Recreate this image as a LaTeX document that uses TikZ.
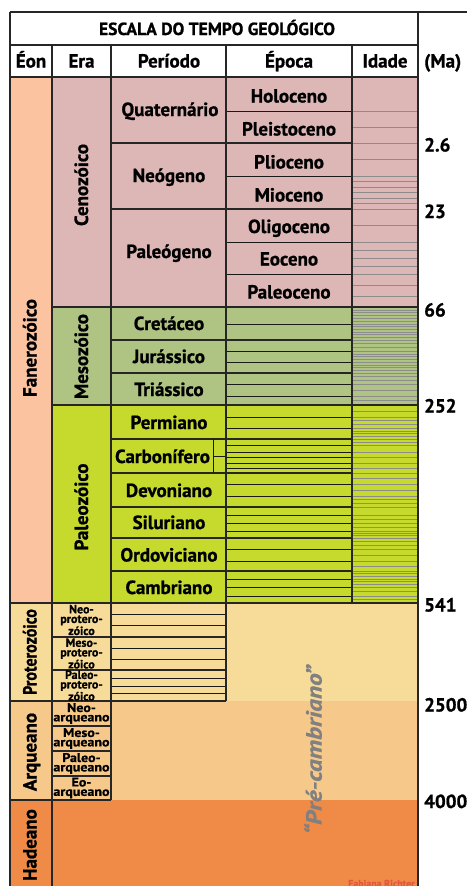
\documentclass[tikz,border=0pt]{standalone}
\usepackage{fontspec}
\setmainfont{PT Sans}[BoldFeatures={FakeBold=0.9},BoldItalicFeatures={FakeBold=0.9}]
\definecolor{fan}{HTML}{FBC3A0}
\definecolor{ceno}{HTML}{DDB6B6}
\definecolor{meso}{HTML}{AFC382}
\definecolor{paleo}{HTML}{C6DA2E}
\definecolor{prot}{HTML}{F7DB98}
\definecolor{arq}{HTML}{F6C98B}
\definecolor{had}{HTML}{EF8B47}
\definecolor{sig}{HTML}{E4583A}
\begin{document}
\begin{tikzpicture}[x=1pt,y=-1pt,line join=miter,
  bd/.style={line width=1.1pt,draw=black!85},
  ep/.style={line width=1pt,draw=black!90},
  ag/.style={line width=0.45pt,draw=black!45},
  lab/.style={font=\fontsize{19}{20}\selectfont\bfseries,inner sep=0pt,anchor=base},
  vlab/.style={lab,rotate=90},
  tinyp/.style={font=\fontsize{12}{9.6}\selectfont\bfseries,inner sep=0pt,align=center},
  tinya/.style={font=\fontsize{12.5}{9.4}\selectfont\bfseries\addfontfeature{FakeStretch=1.12},inner sep=0pt,align=center},
  ma/.style={lab,anchor=base west}]
\useasboundingbox (0,0) rectangle (467,886);
\fill[white] (0,0) rectangle (467,886);
% backgrounds
\fill[fan] (10,77) rectangle (52,603);
\fill[ceno] (52,77) rectangle (418,307);
\fill[meso] (52,307) rectangle (418,405);
\fill[paleo] (52,405) rectangle (418,603);
\fill[prot] (10,603) rectangle (418,701);
\fill[arq] (10,701) rectangle (418,800);
\fill[had] (10,800) rectangle (418,886);
% idade (stage) lines
\foreach \a/\b/\n in {77/111/1,111/143/2,143/176/2,176/209/6,209/242/2,242/274/4,274/307/3,
  307/324/6,324/340/6,340/351/3,351/362/4,362/373/4,373/384/3,384/396/2,396/405/2,
  405/417/2,417/428/3,428/439/4,439/445/2,445/452/1,452/457/1,457/463/1,463/468/1,468/473/1,
  473/484/2,484/496/2,496/507/3,507/515/1,515/523/2,523/531/2,531/538/3,
  538/549/3,549/561/2,561/571/2,571/579/3,579/587/3,587/596/2,596/603/2}{
  \foreach \k in {1,...,\n}{
    \draw[ag] (352,{\a+(\b-\a)*\k/\n}) -- (418,{\a+(\b-\a)*\k/\n});
  }
}
% epoch lines
\foreach \y in {111,143,176,209,242,274,324,340,351,362,373,384,396,417,428,439,445,452,457,463,468,473,484,496,507,515,523,531,538,549,561,571,579,587,596}{
  \draw[ep] (226,\y) -- (352,\y);
}
% period lines
\foreach \y in {143,209,340,373,439,473,507,538,571}{
  \draw[bd] (111,\y) -- (352,\y);
}
% carbonifero subdivision
\draw[ep] (213,439) -- (213,473);
\draw[ep] (213,456) -- (226,456);
% proterozoic period lines
\foreach \y in {614,625,648,659,678,686,693}{
  \draw[ep] (111,\y) -- (226,\y);
}
\foreach \y in {637,670}{
  \draw[bd] (52,\y) -- (226,\y);
}
\foreach \y in {726,751,776}{
  \draw[bd] (52,\y) -- (111,\y);
}
% era lines
\draw[bd] (52,307) -- (418,307);
\draw[bd] (52,405) -- (418,405);
% main frame
\draw[bd] (10,12) -- (467,12);
\draw[bd] (10,45) -- (418,45);
\draw[bd] (10,77) -- (418,77);
\draw[bd] (10,603) -- (418,603);
\draw[bd] (10,701) -- (226,701);
\draw[bd] (10,800) -- (111,800);
\draw[bd] (10,12) -- (10,886);
\draw[bd] (418,12) -- (418,886);
\draw[bd] (52,45) -- (52,886);
\draw[bd] (111,45) -- (111,800);
\draw[bd] (226,45) -- (226,701);
\draw[bd] (352,45) -- (352,603);
% title and headers
\node[lab,font=\fontsize{17.5}{20}\selectfont\bfseries] (title) at (217,35) {ESCALA DO TEMPO GEOLÓGICO};
\node[lab] (heon) at (31,67.5) {Éon};
\node[lab] (hera) at (81.5,67.5) {Era};
\node[lab] (hper) at (169,67.5) {Período};
\node[lab] (hepo) at (289,67.5) {Época};
\node[lab] (hida) at (385,67.5) {Idade};
\node[ma] (hma) at (424,67.5) {(Ma)};
% periods
\node[lab] (quat) at (170,116) {Quaternário};
\node[lab] (neog) at (169,182) {Neógeno};
\node[lab] (paleog) at (169,258) {Paleógeno};
\node[lab] (cret) at (169,330) {Cretáceo};
\node[lab] (jur) at (169,363) {Jurássico};
\node[lab] (tri) at (169,396) {Triássico};
\node[lab] (perm) at (169,429) {Permiano};
\node[lab] (carb) at (162.5,463) {Carbonífero};
\node[lab] (dev) at (169,497) {Devoniano};
\node[lab] (sil) at (169,529) {Siluriano};
\node[lab] (ord) at (169,561.5) {Ordoviciano};
\node[lab] (camb) at (169,594) {Cambriano};
% epochs
\node[lab] (holo) at (289,102.5) {Holoceno};
\node[lab] (plei) at (289,135.5) {Pleistoceno};
\node[lab] (plio) at (289,168.5) {Plioceno};
\node[lab] (mio) at (289,201.5) {Mioceno};
\node[lab] (oli) at (289,233) {Oligoceno};
\node[lab] (eoc) at (289,265.5) {Eoceno};
\node[lab] (palc) at (289,298.5) {Paleoceno};
% vertical labels
\node[vlab] (ceno) at (88,185) {Cenozóico};
\node[vlab] (mesoz) at (88,356.5) {Mesozóico};
\node[vlab] (paleoz) at (88,507) {Paleozóico};
\node[vlab] (fane) at (36.5,348) {Fanerozóico};
\node[vlab] (prote) at (36.5,652) {\scalebox{0.84}[1]{Proterozóico}};
\node[vlab] (arque) at (36.5,752) {Arqueano};
\node[vlab] (hade) at (36.5,845) {Hadeano};
% precambrian eras
\node[tinyp] (neop) at (81.5,620) {Neo-\\protero-\\zóico};
\node[tinyp] (mesop) at (81.5,653.5) {Meso-\\protero-\\zóico};
\node[tinyp] (paleop) at (81.5,685.5) {Paleo-\\protero-\\zóico};
\node[tinya] (neoa) at (81.5,713.5) {Neo-\\arqueano};
\node[tinya] (mesoa) at (81.5,738.5) {Meso-\\arqueano};
\node[tinya] (paleoa) at (81.5,763.5) {Paleo-\\arqueano};
\node[tinya] (eoa) at (81.5,788) {Eo-\\arqueano};
% pre-cambrian
\node[font=\fontsize{22}{24}\selectfont\bfseries\itshape,text=black!50,rotate=90,inner sep=0pt] (prec) at (313,750) {\scalebox{1.15}[1]{“Pré-cambriano”}};
% ages
\node[ma] (m1) at (424,151.5) {2.6};
\node[ma] (m2) at (424,218) {23};
\node[ma] (m3) at (424,316.5) {66};
\node[ma] (m4) at (424,412.5) {252};
\node[ma] (m5) at (424,611.5) {541};
\node[ma] (m6) at (424,711.5) {2500};
\node[ma] (m7) at (424,808) {4000};
% signature
\begin{scope}
\clip (0,0) rectangle (467,886);
\node[font=\fontsize{10}{11}\selectfont\bfseries,text=sig,inner sep=0pt,anchor=base west] (sign) at (348,887) {Fabiana Richter};
\end{scope}
\end{tikzpicture}
\end{document}
